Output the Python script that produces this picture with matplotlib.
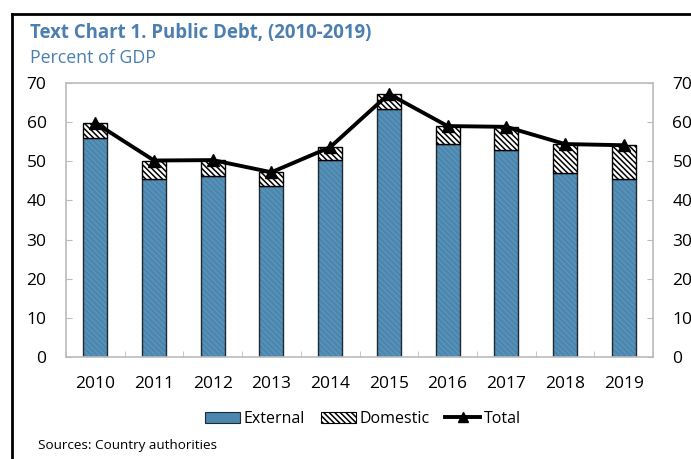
import numpy as np
import matplotlib.pyplot as plt
from matplotlib.patches import Rectangle
from matplotlib.lines import Line2D

plt.rcParams["font.family"] = ["Open Sans", "DejaVu Sans"]
plt.rcParams["hatch.linewidth"] = 1.1

years = ["2010", "2011", "2012", "2013", "2014", "2015", "2016", "2017", "2018", "2019"]
external = [56.0, 45.6, 46.2, 43.7, 50.3, 63.4, 54.3, 52.9, 46.9, 45.5]
domestic = [3.8, 4.6, 4.1, 3.5, 3.3, 3.8, 4.7, 5.9, 7.5, 8.6]
total = [59.8, 50.2, 50.3, 47.2, 53.6, 67.2, 59.0, 58.8, 54.4, 54.1]

blue = "#4A86AE"
title_blue = "#4A7FAF"

fig = plt.figure(figsize=[6.91, 4.59], dpi=100)
ax = fig.add_axes([66 / 691, 1 - 357 / 459, (653 - 66) / 691, (357 - 83) / 459])

x = np.arange(len(years))
w = 0.41
# blue bars: faint hatch in a slightly lighter blue, then a dark outline on top
ax.bar(x, external, width=w, color=blue, edgecolor="#5B93B9", linewidth=0,
       hatch="\\\\\\\\\\\\", zorder=2)
ax.bar(x, external, width=w, fill=False, edgecolor="#1f2a33", linewidth=1.0, zorder=2)
ax.bar(x, domestic, width=w, bottom=external, color="white", edgecolor="black",
       linewidth=1.0, hatch="\\\\\\\\\\\\", zorder=2)
ax.plot(x, total, color="black", linewidth=2.8, marker="^", markersize=9, zorder=3)

ax.set_xlim(-0.5, len(years) - 0.5)
ax.set_ylim(0, 70)
ax.set_yticks(range(0, 71, 10))
ax.set_xticks(x)
ax.set_xticklabels(years)
ax.set_xticks(np.arange(-0.5, len(years)), minor=True)
ax.tick_params(axis="x", which="major", length=0, pad=14, labelsize=12.5)
ax.tick_params(axis="x", which="minor", length=4, direction="in", color="#bbbbbb")
ax.tick_params(axis="y", which="both", direction="in", length=4, color="#bbbbbb",
               labelsize=12.5, pad=14, left=True, right=True, labelleft=True,
               labelright=True)
for s in ax.spines.values():
    s.set_color("#bbbbbb")
    s.set_linewidth(1.2)

handles = [
    Rectangle((0, 0), 1, 1, facecolor=blue, edgecolor="#1f2a33", linewidth=0.8),
    Rectangle((0, 0), 1, 1, facecolor="white", edgecolor="black", linewidth=0.8,
              hatch="\\\\\\\\\\\\"),
    Line2D([], [], color="black", linewidth=2.8, marker="^", markersize=7),
]
fig.legend(handles, ["External", "Domestic", "Total"], loc="center",
           bbox_to_anchor=(363 / 691, 1 - 419 / 459), ncol=3, frameon=False,
           fontsize=11.5, handlelength=2.2, handletextpad=0.2, columnspacing=1.0)

fig.text(30 / 691, 1 - 33 / 459, "Text Chart 1. Public Debt, (2010-2019)",
         fontsize=13.4, fontweight="bold", color=title_blue, va="center")
fig.text(30 / 691, 1 - 58 / 459, "Percent of GDP", fontsize=12.8,
         color=title_blue, va="center")
fig.text(38 / 691, 1 - 445 / 459, "Sources: Country authorities", fontsize=9.7,
         va="center")

# outer frame
fig.add_artist(Line2D([12 / 691, 12 / 691], [0, 1 - 14 / 459], color="black",
                      linewidth=2, transform=fig.transFigure))
fig.add_artist(Line2D([12 / 691, 1], [1 - 14 / 459, 1 - 14 / 459], color="black",
                      linewidth=2, transform=fig.transFigure))

fig.savefig("out.png", dpi=100)
